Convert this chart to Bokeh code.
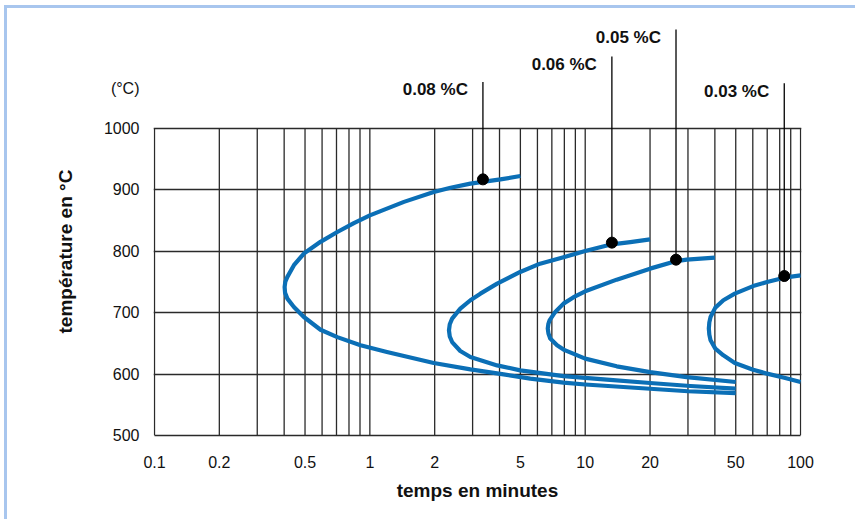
from bokeh.plotting import figure
from bokeh.models import ColumnDataSource, FixedTicker, Range1d, Title
from bokeh.embed import file_html
from bokeh.resources import INLINE
from bokeh.core.properties import value

# ---------------- data ----------------
x_tick_values = [0.1, 0.2, 0.5, 1, 2, 5, 10, 20, 50, 100]
x_tick_labels = ["0.1", "0.2", "0.5", "1", "2", "5", "10", "20", "50", "100"]
x_grid_values = [0.1, 0.2, 0.3, 0.4, 0.5, 0.6, 0.7, 0.8, 0.9,
                 1, 2, 3, 4, 5, 6, 7, 8, 9,
                 10, 20, 30, 40, 50, 60, 70, 80, 90, 100]
y_tick_values = [500, 600, 700, 800, 900, 1000]
y_unit_label = "(°C)"

curve_labels = ["0.08 %C", "0.06 %C", "0.05 %C", "0.03 %C"]

c008_t = [5.0, 4.04, 2.93, 2.37, 1.98, 1.44, 1.00, 0.843, 0.706, 0.59, 0.494, 0.444,
          0.414, 0.405, 0.402, 0.404, 0.414, 0.444, 0.494, 0.59, 0.706, 0.905, 1.20,
          1.98, 2.93, 4.18, 5.56, 7.93, 10.0, 20.0, 30.0, 50.0]
c008_T = [922, 916.6, 909.6, 903, 896, 880, 858, 845.5, 831, 815, 796, 777,
          758, 750, 741.5, 732, 722.6, 709, 692.7, 672, 660, 646.7, 635.8,
          618, 607.6, 599.5, 592.5, 586, 583, 576, 572, 569]

c006_t = [20.0, 16.2, 13.3, 10.0, 7.93, 6.17, 4.99, 3.9, 3.26, 2.93, 2.63, 2.41, 2.35,
          2.33, 2.35, 2.41, 2.63, 2.93, 3.9, 4.99, 7.93, 12.6, 20.0, 30.8, 50.0]
c006_T = [819, 814.6, 811, 800, 790, 779.5, 766, 747, 730.7, 720, 706.3, 690, 681,
          671, 661, 652, 637.4, 627.6, 614, 606, 596.7, 591, 585.4, 580.5, 576.3]

c005_t = [40.0, 29.6, 26.5, 20.0, 14.0, 10.0, 8.83, 7.93, 7.26, 6.83, 6.74, 6.7,
          6.75, 6.88, 7.4, 7.93, 10.0, 14.0, 20.0, 29.6, 50.0]
c005_T = [789.3, 786, 783.7, 771.4, 753.5, 734.5, 725, 714.5, 701, 687.3, 681, 674,
          666, 657.6, 646.7, 639.7, 625, 612.5, 603, 595, 587]

c003_t = [100, 84, 69.9, 60.2, 49.5, 43.8, 40.2, 38.2, 37.7, 37.5,
          37.7, 38.2, 40.2, 43.8, 49.5, 60.2, 69.9, 84, 100]
c003_T = [760.5, 756.7, 749.6, 743, 730.7, 720, 708, 692.7, 684, 674,
          664, 654.8, 641.3, 630.4, 618, 607, 600.6, 594, 587]

dot_t = [3.35, 13.3, 26.4, 84]
dot_T = [916.6, 813.7, 786, 759.4]

# ---------------- positions / styles ----------------
pointer_tops = [1075, 1116.6, 1160.5, 1073]
label_drop = 13
unit_label_pos = 1064.5
FONT = "Liberation Sans"
BLUE = "#0b6fb6"
GRID = "#2a2a2a"
FRAME_BLUE = "#a8c6ee"

p = figure(width=855, height=519, x_axis_type="log",
           x_range=Range1d(0.09894, 101), y_range=Range1d(500, 1175),
           output_backend="svg", toolbar_location=None,
           min_border_left=153, min_border_right=54,
           min_border_top=20, min_border_bottom=84)
p.outline_line_color = None
p.background_fill_color = "white"
p.border_fill_color = None
p.styles = {"box-shadow": f"inset 4px 5px 0 0 white, inset 7px 8px 0 0 {FRAME_BLUE}"}

# x axis
p.xaxis.ticker = FixedTicker(ticks=x_tick_values)
p.xaxis.major_label_overrides = {v: s for v, s in zip(x_tick_values, x_tick_labels)}
p.xaxis.bounds = (x_tick_values[0], x_tick_values[-1])
p.xaxis.major_label_standoff = 20
p.xaxis.axis_label = "temps en minutes"
p.xaxis.axis_label_standoff = 9

# y axis (unit label shown as an extra labelled tick above the box)
p.yaxis.ticker = FixedTicker(ticks=y_tick_values + [unit_label_pos])
p.yaxis.major_label_overrides = {unit_label_pos: y_unit_label}
p.yaxis.bounds = (y_tick_values[0], 1096)
p.yaxis.axis_line_color = None
p.yaxis.major_label_standoff = 14

for ax in (p.xaxis[0], p.yaxis[0]):
    ax.major_tick_out = 0
    ax.major_tick_in = 0
    ax.minor_tick_out = 0
    ax.minor_tick_in = 0
    ax.major_label_text_font = FONT
    ax.major_label_text_font_size = "16px"
    ax.major_label_text_color = "#111111"
    ax.axis_label_text_font = FONT
    ax.axis_label_text_font_style = "bold"
    ax.axis_label_text_font_size = "19px"
    ax.axis_label_text_color = "#111111"
p.xaxis.axis_line_color = GRID
p.xaxis.axis_line_width = 1.3

# y axis title
p.add_layout(Title(text="température en °C", align="left", offset=102, standoff=50,
                   text_font=FONT, text_font_style="bold", text_font_size="19px",
                   text_color="#111111"), "left")

# grids
p.xgrid.visible = False
p.ygrid.ticker = FixedTicker(ticks=y_tick_values)
p.ygrid.grid_line_color = GRID
p.ygrid.grid_line_width = 1.3
p.segment(x0=x_grid_values, y0=[y_tick_values[0]] * len(x_grid_values),
          x1=x_grid_values, y1=[y_tick_values[-1]] * len(x_grid_values),
          line_color=GRID, line_width=1.3)

# curves
for ts, Ts in [(c008_t, c008_T), (c006_t, c006_T), (c005_t, c005_T), (c003_t, c003_T)]:
    p.line(ts, Ts, line_color=BLUE, line_width=4.2, line_join="round")

# pointer lines, dots, labels
p.segment(x0=dot_t, y0=dot_T, x1=dot_t, y1=pointer_tops, line_color="black", line_width=1.3)
p.scatter(dot_t, dot_T, size=11, color="black")
src = ColumnDataSource(dict(x=dot_t, y=[t - label_drop for t in pointer_tops], text=curve_labels))
p.text(x="x", y="y", text="text", source=src, x_offset=-15,
       text_align="right", text_baseline="middle",
       text_font=value(FONT), text_font_style="bold", text_font_size="17px",
       text_color="#111111")

open("out.html", "w").write(file_html(p, INLINE))
